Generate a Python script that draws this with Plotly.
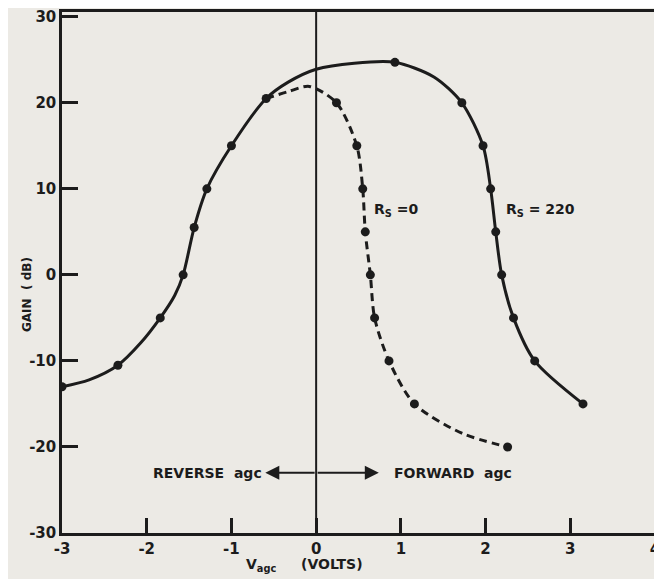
import plotly.graph_objects as go

# ---- data ----
# R_S = 220 (solid curve) measured points
rs220_x = [-3.0, -2.34, -1.84, -1.57, -1.44, -1.29, -1.0, -0.59, 0.93, 1.72, 1.97, 2.06, 2.12, 2.19, 2.33, 2.58, 3.15]
rs220_y = [-13.0, -10.5, -5.0, 0.0, 5.5, 10.0, 15.0, 20.5, 24.7, 20.0, 15.0, 10.0, 5.0, 0.0, -5.0, -10.0, -15.0]
# extra points (between markers)
rs220_trace_x = [-2.68, -2.07, -1.67, -0.33, 0.0, 0.45, 1.39]
rs220_trace_y = [-12.2, -7.9, -2.4, 22.4, 23.9, 24.6, 23.0]

# R_S = 0 (dashed curve) measured points
rs0_x = [0.24, 0.48, 0.55, 0.58, 0.64, 0.69, 0.86, 1.16, 2.26]
rs0_y = [20.0, 15.0, 10.0, 5.0, 0.0, -5.0, -10.0, -15.0, -20.0]
# points (it branches off the solid one)
rs0_trace_x = [-0.59, -0.33, -0.08, 1.72]
rs0_trace_y = [20.5, 21.3, 21.9, -18.4]

x_ticks = [-3, -2, -1, 0, 1, 2, 3, 4]
y_ticks = [-30, -20, -10, 0, 10, 20, 30]

INK = "#1c1c1c"
PAPER = "#ECEAE5"
FONT = "DejaVu Sans"

def merged(ax, ay, bx, by):
    pts = sorted(zip(list(ax) + list(bx), list(ay) + list(by)))
    return [p[0] for p in pts], [p[1] for p in pts]

s_x, s_y = merged(rs220_x, rs220_y, rs220_trace_x, rs220_trace_y)
d_x, d_y = merged(rs0_x, rs0_y, rs0_trace_x, rs0_trace_y)

fig = go.Figure()
fig.add_trace(go.Scatter(x=d_x, y=d_y, mode="lines",
                         line=dict(color=INK, width=3, dash="8px,5px", shape="spline", smoothing=0.8),
                         hoverinfo="skip", showlegend=False))
fig.add_trace(go.Scatter(x=s_x, y=s_y, mode="lines",
                         line=dict(color=INK, width=3, shape="spline", smoothing=0.8),
                         hoverinfo="skip", showlegend=False))
fig.add_trace(go.Scatter(x=rs220_x, y=rs220_y, mode="markers",
                         marker=dict(color=INK, size=9), showlegend=False))
fig.add_trace(go.Scatter(x=rs0_x, y=rs0_y, mode="markers",
                         marker=dict(color=INK, size=9), showlegend=False))

# vertical line at 0 V
fig.add_shape(type="line", xref="x", yref="paper", x0=0, x1=0, y0=0, y1=1,
              line=dict(color=INK, width=2))

tfont = dict(family=FONT, size=15, color=INK, weight="bold")
afont = dict(family=FONT, size=14, color=INK, weight="bold")

annotations = [
    dict(text="GAIN  ( dB)", xref="paper", yref="paper", x=-0.074, y=0.457,
         textangle=-90, showarrow=False, font=dict(family=FONT, size=12, color=INK, weight="bold")),
    dict(text="R<sub>S</sub> =0", xref="x", yref="y", x=0.66, y=7.5, xanchor="left",
         showarrow=False, font=afont),
    dict(text="R<sub>S</sub> = 220", xref="x", yref="y", x=2.22, y=7.5, xanchor="left",
         showarrow=False, font=afont),
    dict(text="REVERSE  agc", xref="x", yref="y", x=-0.62, y=-23.0, xanchor="right",
         showarrow=False, font=afont),
    dict(text="FORWARD  agc", xref="x", yref="y", x=0.89, y=-23.0, xanchor="left",
         showarrow=False, font=afont),
    dict(text="V<sub>agc</sub>", xref="paper", yref="paper", x=0.307, y=-0.040,
         xanchor="left", yanchor="top", showarrow=False, font=afont),
    dict(text="(VOLTS)", xref="paper", yref="paper", x=0.400, y=-0.040,
         xanchor="left", yanchor="top", showarrow=False, font=afont),
    # double-headed arrow
    dict(x=-0.60, y=-23.0, ax=0.0, ay=-23.0, xref="x", yref="y", axref="x", ayref="y",
         text="", showarrow=True, arrowhead=2, arrowsize=1.4, arrowwidth=2, arrowcolor=INK),
    dict(x=0.74, y=-23.0, ax=0.0, ay=-23.0, xref="x", yref="y", axref="x", ayref="y",
         text="", showarrow=True, arrowhead=2, arrowsize=1.4, arrowwidth=2, arrowcolor=INK),
]

# the page body adds an 8px offset, so the figure is sized to the remaining area
fig.update_layout(
    width=654, height=571,
    margin=dict(l=54, r=7, t=4, b=46, autoexpand=False),
    paper_bgcolor=PAPER, plot_bgcolor=PAPER,
    annotations=annotations,
    showlegend=False,
)
fig.update_xaxes(range=[-3, 4], tickvals=x_ticks, ticktext=[str(v) for v in x_ticks],
                 ticks="inside", ticklen=15, tickwidth=2.5, tickcolor=INK,
                 showline=True, linewidth=2.5, linecolor=INK, mirror=True, automargin=False,
                 ticklabeloverflow="allow",
                 showgrid=False, zeroline=False, tickfont=tfont)
fig.update_yaxes(range=[-30, 30.55], tickvals=y_ticks, ticktext=[str(v) for v in y_ticks],
                 ticks="inside", ticklen=16, tickwidth=2.5, tickcolor=INK,
                 showline=True, linewidth=2.5, linecolor=INK, mirror=True, automargin=False,
                 ticklabeloverflow="allow",
                 showgrid=False, zeroline=False, tickfont=tfont)

fig.write_html("out.html")
